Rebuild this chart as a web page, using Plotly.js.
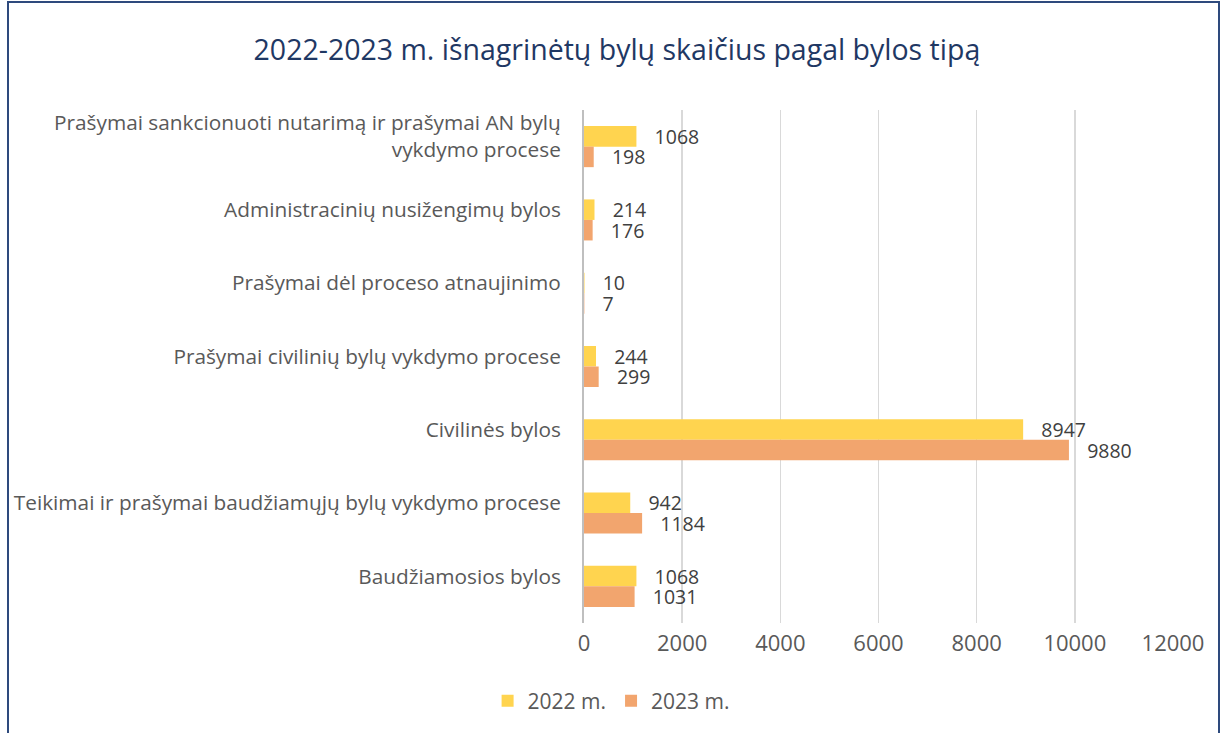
<!DOCTYPE html>
<html>
<head>
<meta charset="utf-8">
<script src="https://cdn.plot.ly/plotly-3.0.1.min.js"></script>
<style>
html,body{margin:0;padding:0;background:#fff;}
#wrap{position:absolute;left:0;top:0;width:1224px;height:733px;}
#frame{position:absolute;left:7px;top:1px;width:1209px;height:760px;border:2px solid #2E4A7D;pointer-events:none;}
#chart{position:absolute;left:0;top:0;width:1224px;height:733px;}
</style>
</head>
<body>
<div id="wrap">
<div id="chart"></div>
<div id="frame"></div>
</div>
<script>
var categories = [
  "Prašymai sankcionuoti nutarimą ir prašymai AN bylų<br>vykdymo procese",
  "Administracinių nusižengimų bylos",
  "Prašymai dėl proceso atnaujinimo",
  "Prašymai civilinių bylų vykdymo procese",
  "Civilinės bylos",
  "Teikimai ir prašymai baudžiamųjų bylų vykdymo procese",
  "Baudžiamosios bylos"
];
var values2022 = [1068, 214, 10, 244, 8947, 942, 1068];
var values2023 = [198, 176, 7, 299, 9880, 1184, 1031];
var seriesNames = ["2022 m.", "2023 m."];
var xTicks = [0, 2000, 4000, 6000, 8000, 10000, 12000];

var fontFam = "'Open Sans', Lato, sans-serif";
var labelFont = {family: fontFam, size: 19.5, color: "#404040"};

var traces = [
  {type: "bar", orientation: "h", name: seriesNames[0], y: categories, x: values2022,
   marker: {color: "#FFD44F"}, textposition: "outside", texttemplate: "\u00a0\u00a0\u00a0%{x:.0f}",
   textfont: labelFont, constraintext: "none", cliponaxis: false, hoverinfo: "x+name"},
  {type: "bar", orientation: "h", name: seriesNames[1], y: categories, x: values2023,
   marker: {color: "#F2A56E"}, textposition: "outside", texttemplate: "\u00a0\u00a0\u00a0%{x:.0f}",
   textfont: labelFont, constraintext: "none", cliponaxis: false, hoverinfo: "x+name"}
];

var layout = {
  width: 1224, height: 733,
  paper_bgcolor: "rgba(0,0,0,0)", plot_bgcolor: "rgba(0,0,0,0)",
  margin: {l: 584, r: 51, t: 110, b: 109},
  title: {text: "2022-2023 m. išnagrinėtų bylų skaičius pagal bylos tipą",
          font: {family: fontFam, size: 28.5, color: "#1F3864"},
          x: 0.504, xanchor: "center", y: 0.932, yanchor: "middle"},
  barmode: "group", bargap: 0.44, bargroupgap: 0,
  xaxis: {range: [0, 12000], tickvals: xTicks, ticktext: xTicks.map(String),
          showgrid: true, gridcolor: "#D9D9D9", gridwidth: 1.5, zeroline: false,
          tickfont: {family: fontFam, size: 22, color: "#595959"}, ticks: "", ticklen: 0,
          ticklabelstandoff: 5, showline: false, fixedrange: true},
  yaxis: {autorange: "reversed", type: "category", showline: true, linecolor: "#BFBFBF", linewidth: 2,
          ticks: "", ticklen: 0, ticklabelstandoff: 17, ticklabelshift: 10,
          tickfont: {family: fontFam, size: 20.8, color: "#595959"}, fixedrange: true},
  showlegend: true,
  legend: {orientation: "h", x: 0.046, xanchor: "center", y: -0.15, yanchor: "middle",
           font: {family: fontFam, size: 21, color: "#595959"}, itemwidth: 30, traceorder: "normal"}
};

Plotly.newPlot("chart", traces, layout, {displayModeBar: false, staticPlot: true});
</script>
</body>
</html>
